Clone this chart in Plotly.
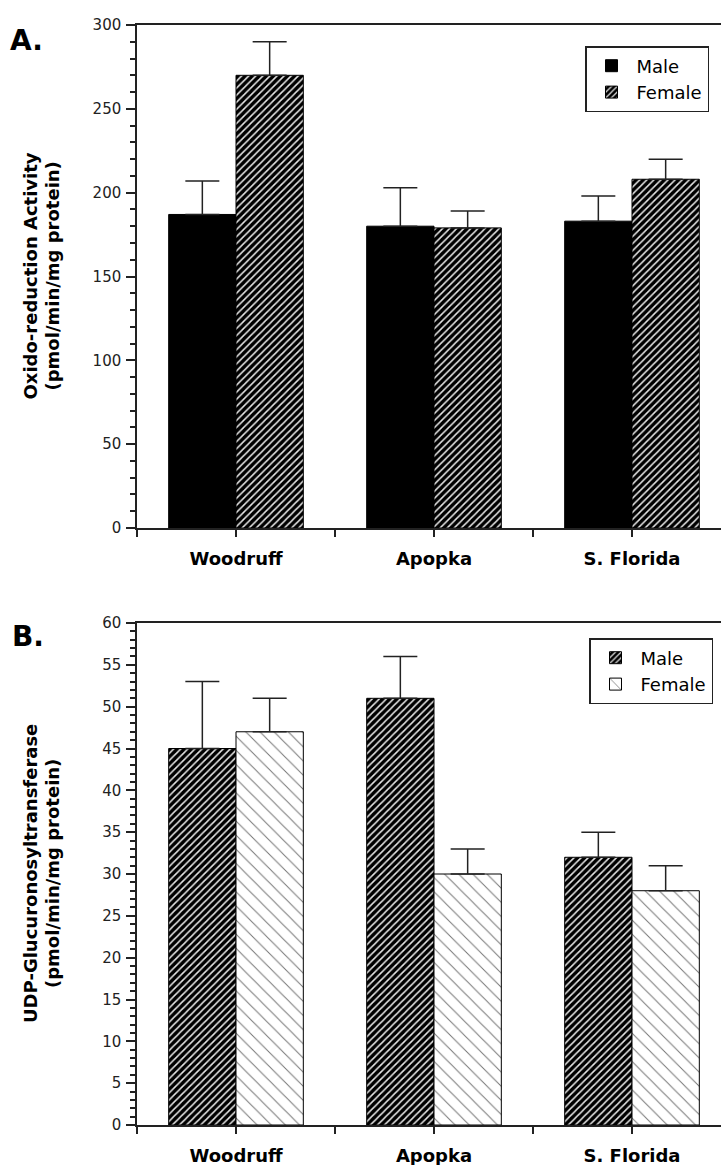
import plotly.graph_objects as go

categories = ["Woodruff", "Apopka", "S. Florida"]
series_names = ["Male", "Female"]

# Panel A: Oxido-reduction activity
a_male = [187, 180, 183]
a_male_err = [20, 23, 15]
a_female = [270, 179, 208]
a_female_err = [20, 10, 12]

# Panel B: UDP-Glucuronosyltransferase
b_male = [45, 51, 32]
b_male_err = [8, 5, 3]
b_female = [47, 30, 28]
b_female_err = [4, 3, 3]

a_yticks = [0, 50, 100, 150, 200, 250, 300]
b_yticks = [0, 5, 10, 15, 20, 25, 30, 35, 40, 45, 50, 55, 60]

FONT = "DejaVu Sans"
W, H = 721, 1165
ML, MR, MT, MB = 137, 0, 25, 40
PW = W - ML - MR
PH = H - MT - MB


def px_to_xpaper(px):
    return (px - ML) / PW


def px_to_ypaper(py):
    return (H - MB - py) / PH


xs = list(range(len(categories)))

solid = dict(color="black", line=dict(color="black", width=1))
hatch = dict(color="black", line=dict(color="black", width=1),
             pattern=dict(shape="/", bgcolor="black", fgcolor="#e8e8e8",
                          size=5, solidity=0.3, fillmode="replace"))
dash = dict(color="white", line=dict(color="black", width=1),
            pattern=dict(shape="\\", bgcolor="white", fgcolor="#777777",
                         size=10, solidity=0.1, fillmode="replace"))


def err(vals):
    return dict(type="data", array=vals, arrayminus=[0] * len(vals),
                symmetric=False, color="#222222", thickness=1.5, width=17)


fig = go.Figure()
fig.add_trace(go.Bar(x=xs, y=a_male, name=series_names[0], marker=solid,
                     error_y=err(a_male_err), xaxis="x", yaxis="y", legend="legend"))
fig.add_trace(go.Bar(x=xs, y=a_female, name=series_names[1], marker=hatch,
                     error_y=err(a_female_err), xaxis="x", yaxis="y", legend="legend"))
fig.add_trace(go.Bar(x=xs, y=b_male, name=series_names[0], marker=hatch,
                     error_y=err(b_male_err), xaxis="x2", yaxis="y2", legend="legend2"))
fig.add_trace(go.Bar(x=xs, y=b_female, name=series_names[1], marker=dash,
                     error_y=err(b_female_err), xaxis="x2", yaxis="y2", legend="legend2"))

xrange = [-0.5, -0.5 + PW / 198.0]

xaxis_common = dict(
    range=xrange, tickmode="array", tickvals=xs, ticktext=categories,
    showline=True, linecolor="#222222", linewidth=1.5, mirror=True,
    ticks="outside", ticklen=7, tickwidth=1.5, tickcolor="#222222",
    minor=dict(tick0=0.5, dtick=1, ticks="outside", ticklen=7, tickwidth=1.5,
               tickcolor="#222222"),
    showgrid=False, zeroline=False,
    tickfont=dict(family=FONT, size=18, color="black", weight="bold"),
    ticklabelstandoff=7,
)

yaxis_common = dict(
    showline=True, linecolor="#222222", linewidth=1.5, mirror=False,
    ticks="outside", ticklen=9, tickwidth=1.5, tickcolor="#222222",
    showgrid=False, zeroline=False,
    tickfont=dict(family=FONT, size=15, color="#222222"),
    ticklabelstandoff=2,
)

a_bottom = px_to_ypaper(528)
b_top = px_to_ypaper(623)

legend_common = dict(xanchor="right", yanchor="top",
                     bordercolor="#222222", borderwidth=1.5, bgcolor="white",
                     font=dict(family=FONT, size=18, color="black"),
                     tracegroupgap=0, itemwidth=40)

fig.update_layout(
    width=W, height=H,
    margin=dict(l=ML, r=MR, t=MT, b=MB),
    paper_bgcolor="white", plot_bgcolor="white",
    barmode="group", bargap=0.32, bargroupgap=0,
    font=dict(family=FONT, color="black"),
    xaxis=dict(**xaxis_common, domain=[0, 1], anchor="y"),
    yaxis=dict(**yaxis_common, domain=[a_bottom, 1], anchor="x", range=[0, 300],
               tickmode="array", tickvals=a_yticks,
               minor=dict(dtick=10, tick0=0, ticks="outside", ticklen=5,
                          tickwidth=1.5, tickcolor="#222222")),
    xaxis2=dict(**xaxis_common, domain=[0, 1], anchor="y2"),
    yaxis2=dict(**yaxis_common, domain=[0, b_top], anchor="x2", range=[0, 60],
                tickmode="array", tickvals=b_yticks,
                minor=dict(dtick=1, tick0=0, ticks="outside", ticklen=5,
                           tickwidth=1.5, tickcolor="#222222")),
    legend=dict(**legend_common, x=px_to_xpaper(709), y=px_to_ypaper(46)),
    legend2=dict(**legend_common, x=px_to_xpaper(713), y=px_to_ypaper(638)),
    showlegend=True,
)

a_center = (25 + 528) / 2
b_center = (623 + 1125) / 2

title_font = dict(family=FONT, size=18, color="black")
annotations = [
    dict(text="<b>A.</b>", x=px_to_xpaper(8), y=px_to_ypaper(22), xref="paper", yref="paper",
         xanchor="left", yanchor="top", showarrow=False,
         font=dict(family=FONT, size=28, color="black")),
    dict(text="<b>B.</b>", x=px_to_xpaper(10), y=px_to_ypaper(618), xref="paper", yref="paper",
         xanchor="left", yanchor="top", showarrow=False,
         font=dict(family=FONT, size=28, color="black")),
    dict(text="<b>Oxido-reduction Activity</b>",
         x=px_to_xpaper(30), y=px_to_ypaper(a_center), xref="paper", yref="paper",
         xanchor="center", yanchor="middle", textangle=-90, showarrow=False,
         font=title_font),
    dict(text="<b>(pmol/min/mg protein)</b>",
         x=px_to_xpaper(52), y=px_to_ypaper(a_center), xref="paper", yref="paper",
         xanchor="center", yanchor="middle", textangle=-90, showarrow=False,
         font=title_font),
    dict(text="<b>UDP-Glucuronosyltransferase</b>",
         x=px_to_xpaper(30), y=px_to_ypaper(b_center), xref="paper", yref="paper",
         xanchor="center", yanchor="middle", textangle=-90, showarrow=False,
         font=title_font),
    dict(text="<b>(pmol/min/mg protein)</b>",
         x=px_to_xpaper(52), y=px_to_ypaper(b_center), xref="paper", yref="paper",
         xanchor="center", yanchor="middle", textangle=-90, showarrow=False,
         font=title_font),
]
fig.update_layout(annotations=annotations)

fig.write_html("out.html", config={"displayModeBar": False},
               post_script="document.body.style.margin='0';")
